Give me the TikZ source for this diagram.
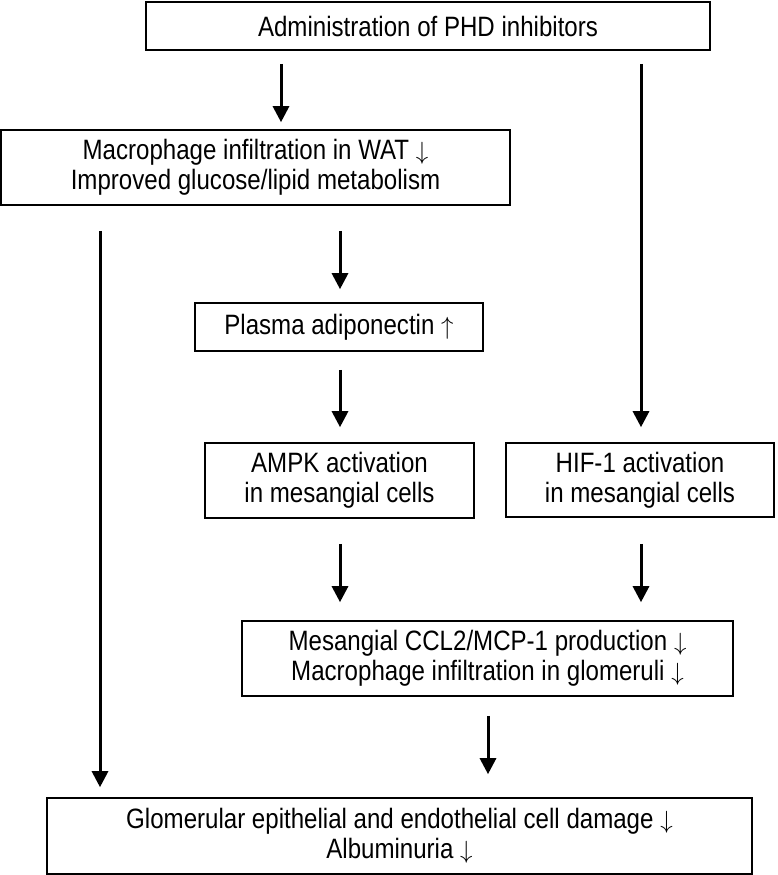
\documentclass[tikz,border=0pt]{standalone}
\usepackage{fontspec}
\setmainfont{Liberation Sans}[FakeStretch=0.86]
\usetikzlibrary{arrows.meta}
\begin{document}
\begin{tikzpicture}[x=1pt,y=1pt,
    box/.style={draw, line width=1.6pt, inner sep=0pt, align=center,
      font=\fontsize{28}{30}\selectfont},
    flow/.style={line width=3pt, -{Triangle[width=16pt,length=16pt]}}]
  \useasboundingbox (0,0) rectangle (777,-875);
  \node[box, minimum width=564pt, minimum height=48pt] (adm) at (428,-26)
    {Administration of PHD inhibitors};
  \node[box, minimum width=509pt, minimum height=75pt] (wat) at (255.5,-167.5)
    {Macrophage infiltration in WAT $\downarrow$\\Improved glucose/lipid metabolism};
  \node[box, minimum width=288pt, minimum height=48pt] (adipo) at (339,-327)
    {Plasma adiponectin $\uparrow$};
  \node[box, minimum width=269pt, minimum height=75pt] (ampk) at (339.5,-480.5)
    {AMPK activation\\in mesangial cells};
  \node[box, minimum width=268pt, minimum height=74pt] (hif) at (640,-480)
    {HIF-1 activation\\in mesangial cells};
  \node[box, minimum width=491pt, minimum height=75pt] (ccl) at (487.5,-658.5)
    {Mesangial CCL2/MCP-1 production $\downarrow$\\Macrophage infiltration in glomeruli $\downarrow$};
  \node[box, minimum width=705pt, minimum height=76pt] (glom) at (399.5,-836)
    {Glomerular epithelial and endothelial cell damage $\downarrow$\\Albuminuria $\downarrow$};
  \coordinate (c1) at (100,0);
  \coordinate (c2) at (281,0);
  \coordinate (c3) at (340,0);
  \coordinate (c4) at (488,0);
  \coordinate (c5) at (641,0);
  \begin{scope}[flow]
    \draw[shorten <=13pt, shorten >=7pt] (adm.south -| c2) to (wat.north -| c2);
    \draw[shorten <=13pt, shorten >=15pt] (adm.south -| c5) to (hif.north -| c5);
    \draw[shorten <=25pt, shorten >=10pt] (wat.south -| c1) to (glom.north -| c1);
    \draw[shorten <=25pt, shorten >=13pt] (wat.south -| c3) to (adipo.north -| c3);
    \draw[shorten <=18pt, shorten >=15pt] (adipo.south -| c3) to (ampk.north -| c3);
    \draw[shorten <=25pt, shorten >=18pt] (ampk.south -| c3) to (ccl.north -| c3);
    \draw[shorten <=26pt, shorten >=18pt] (hif.south -| c5) to (ccl.north -| c5);
    \draw[shorten <=19pt, shorten >=23pt] (ccl.south -| c4) to (glom.north -| c4);
  \end{scope}
\end{tikzpicture}
\end{document}
